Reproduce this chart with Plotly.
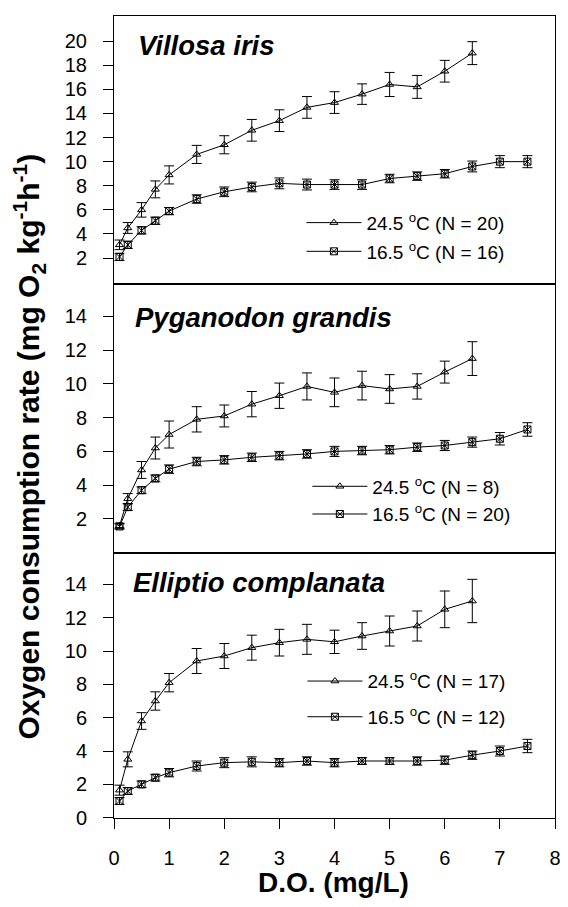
import plotly.graph_objects as go

# ---------------- data ----------------
X_WARM = [0.1, 0.25, 0.5, 0.75, 1, 1.5, 2, 2.5, 3, 3.5, 4, 4.5, 5, 5.5, 6, 6.5]
X_COOL = [0.1, 0.25, 0.5, 0.75, 1, 1.5, 2, 2.5, 3, 3.5, 4, 4.5, 5, 5.5, 6, 6.5, 7, 7.5]

SPECIES = ["Villosa iris", "Pyganodon grandis", "Elliptio complanata"]
N_WARM = [20, 8, 17]
N_COOL = [16, 20, 12]

villosa_warm = [3.1, 4.5, 6.0, 7.7, 8.9, 10.6, 11.4, 12.6, 13.4, 14.5, 14.9, 15.6, 16.4, 16.2, 17.5, 19.0]
villosa_warm_se = [0.4, 0.45, 0.6, 0.7, 0.75, 0.75, 0.75, 0.9, 0.9, 0.9, 0.9, 0.85, 1.0, 0.95, 0.9, 0.95]
villosa_cool = [2.1, 3.1, 4.3, 5.1, 5.9, 6.9, 7.5, 7.9, 8.2, 8.1, 8.1, 8.1, 8.6, 8.8, 9.0, 9.6, 10.0, 10.0]
villosa_cool_se = [0.3, 0.3, 0.3, 0.3, 0.3, 0.35, 0.4, 0.4, 0.45, 0.45, 0.4, 0.4, 0.35, 0.35, 0.35, 0.45, 0.5, 0.5]

pyganodon_warm = [1.6, 3.2, 4.9, 6.2, 7.0, 7.9, 8.1, 8.8, 9.3, 9.85, 9.5, 9.9, 9.7, 9.85, 10.7, 11.5]
pyganodon_warm_se = [0.15, 0.3, 0.5, 0.65, 0.8, 0.75, 0.65, 0.75, 0.75, 0.8, 0.85, 0.85, 0.85, 0.75, 0.65, 1.0]
pyganodon_cool = [1.55, 2.7, 3.7, 4.4, 4.95, 5.4, 5.5, 5.65, 5.75, 5.85, 6.0, 6.05, 6.1, 6.25, 6.35, 6.55, 6.75, 7.3]
pyganodon_cool_se = [0.15, 0.2, 0.2, 0.2, 0.25, 0.25, 0.25, 0.25, 0.25, 0.25, 0.3, 0.25, 0.25, 0.25, 0.3, 0.3, 0.37, 0.4]

elliptio_warm = [1.65, 3.5, 5.8, 7.0, 8.1, 9.4, 9.7, 10.2, 10.5, 10.7, 10.55, 10.9, 11.2, 11.5, 12.5, 13.0]
elliptio_warm_se = [0.3, 0.45, 0.5, 0.55, 0.55, 0.75, 0.75, 0.75, 0.8, 0.9, 0.7, 0.8, 0.9, 0.9, 1.1, 1.3]
elliptio_cool = [1.0, 1.6, 2.0, 2.4, 2.7, 3.1, 3.3, 3.35, 3.3, 3.4, 3.3, 3.4, 3.4, 3.4, 3.45, 3.75, 4.0, 4.3]
elliptio_cool_se = [0.2, 0.2, 0.2, 0.2, 0.25, 0.3, 0.3, 0.3, 0.25, 0.25, 0.25, 0.2, 0.2, 0.25, 0.25, 0.25, 0.3, 0.4]

X_TICKS = [0, 1, 2, 3, 4, 5, 6, 7, 8]
Y_TICKS = [[2, 4, 6, 8, 10, 12, 14, 16, 18, 20],
           [2, 4, 6, 8, 10, 12, 14],
           [0, 2, 4, 6, 8, 10, 12, 14]]

WARM = [villosa_warm, pyganodon_warm, elliptio_warm]
WARM_SE = [villosa_warm_se, pyganodon_warm_se, elliptio_warm_se]
COOL = [villosa_cool, pyganodon_cool, elliptio_cool]
COOL_SE = [villosa_cool_se, pyganodon_cool_se, elliptio_cool_se]

# ---------------- layout geometry ----------------
# the page body has an 8px default margin, so the figure is offset by OFF
OFF = 8
PAGE_W, PAGE_H = 568, 907
W, H = PAGE_W - OFF, PAGE_H - OFF
# plot area in page pixels: x 114..561, y 15..818
ML = 114 - OFF
MR = W - (561 - OFF)
MT = 15 - OFF
MB = H - (818 - OFF)
PH = H - MT - MB
PW = W - ML - MR


def py(pix):
    """page pixel y -> paper fraction"""
    return (H - MB - (pix - OFF)) / PH


def px(pix):
    """page pixel x -> paper fraction"""
    return (pix - OFF - ML) / PW


# panel boundaries (page pixels): top, bottom
PANELS = [(15, 283), (283, 553), (553, 818)]
Y_RANGES = [[-0.12, 22.08], [-0.04, 15.94], [-0.02, 15.86]]

FONT = "Liberation Sans, Arial, Helvetica, sans-serif"
TICK_SIZE = 20
LEG_SIZE = 19

fig = go.Figure()
legend_names = ["legend", "legend2", "legend3"]
axis_ids = ["", "2", "3"]

for i in range(3):
    ax = axis_ids[i]
    xa = "x" + ax
    ya = "y" + ax
    fig.add_trace(go.Scatter(
        x=X_WARM, y=WARM[i], xaxis=xa, yaxis=ya,
        mode="lines+markers",
        name="24.5 <sup>o</sup>C (N = %d)" % N_WARM[i],
        line=dict(color="black", width=1),
        marker=dict(symbol="triangle-up-open", size=7, color="black",
                    line=dict(width=1, color="black")),
        error_y=dict(type="data", array=WARM_SE[i], visible=True,
                     color="black", thickness=1, width=5),
        legend=legend_names[i], legendgroup="w%d" % i,
    ))
    fig.add_trace(go.Scatter(
        x=X_COOL, y=COOL[i], xaxis=xa, yaxis=ya,
        mode="lines+markers",
        name="16.5 <sup>o</sup>C (N = %d)" % N_COOL[i],
        line=dict(color="black", width=1),
        marker=dict(symbol="square-x-open", size=7, color="black",
                    line=dict(width=1, color="black")),
        error_y=dict(type="data", array=COOL_SE[i], visible=True,
                     color="black", thickness=1, width=5),
        legend=legend_names[i], legendgroup="c%d" % i,
    ))

layout = dict(
    width=W, height=H,
    margin=dict(l=ML, r=MR, t=MT, b=MB),
    paper_bgcolor="white", plot_bgcolor="white",
    font=dict(family=FONT, size=LEG_SIZE, color="black"),
    showlegend=True,
)

for i in range(3):
    ax = axis_ids[i]
    top, bot = PANELS[i]
    bottom_panel = (i == 2)
    layout["xaxis" + ax] = dict(
        domain=[0, 1], range=[0, 8], anchor="y" + ax,
        showline=True, linecolor="black", linewidth=1, mirror=True,
        showgrid=False, zeroline=False,
        tickmode="array", tickvals=X_TICKS,
        ticks="outside" if bottom_panel else "",
        ticklen=10, tickwidth=1, tickcolor="black",
        showticklabels=bottom_panel,
        ticklabelstandoff=12,
        ticklabeloverflow="allow",
        tickfont=dict(size=TICK_SIZE, family=FONT),
    )
    if i != 2:
        layout["xaxis" + ax]["matches"] = "x3"
    layout["yaxis" + ax] = dict(
        domain=[py(bot), py(top)], range=Y_RANGES[i], anchor="x" + ax,
        showline=True, linecolor="black", linewidth=1, mirror=True,
        showgrid=False, zeroline=False,
        tickmode="array", tickvals=Y_TICKS[i],
        ticks="outside", ticklen=10, tickwidth=1, tickcolor="black",
        ticklabelstandoff=12,
        tickfont=dict(size=TICK_SIZE, family=FONT),
    )

# legends: (left px, top px, group gap) in page pixels
LEG_POS = [(304, 203, 1), (310, 467, 0), (305, 662, 8)]
for i, name in enumerate(legend_names):
    lx, ly, gap = LEG_POS[i]
    layout[name] = dict(
        x=px(lx), y=py(ly), xanchor="left", yanchor="top",
        xref="paper", yref="paper",
        bgcolor="rgba(0,0,0,0)", borderwidth=0,
        font=dict(size=LEG_SIZE, family=FONT),
        traceorder="grouped", tracegroupgap=gap,
        itemwidth=55,
        itemclick=False, itemdoubleclick=False,
    )

fig.update_layout(**layout)

annotations = []
TITLE_POS = [(136, 45), (133, 317), (131, 582)]
for i, sp in enumerate(SPECIES):
    tx, ty = TITLE_POS[i]
    annotations.append(dict(
        text="<b><i>%s</i></b>" % sp, x=px(tx), y=py(ty),
        xref="paper", yref="paper", xanchor="left", yanchor="middle",
        showarrow=False, font=dict(size=27.5, family=FONT),
    ))
annotations.append(dict(
    text="<b>D.O. (mg/L)</b>", x=px(336), y=py(883),
    xref="paper", yref="paper", xanchor="center", yanchor="middle",
    showarrow=False, font=dict(size=28, family=FONT),
))
annotations.append(dict(
    text="<b>Oxygen consumption rate (mg O<sub>2</sub> kg<sup>-1</sup>h<sup>-1</sup>)</b>",
    x=px(28), y=py(446), textangle=-90,
    xref="paper", yref="paper", xanchor="center", yanchor="middle",
    showarrow=False, font=dict(size=30, family=FONT),
))
fig.update_layout(annotations=annotations)

fig.write_html("out.html")
